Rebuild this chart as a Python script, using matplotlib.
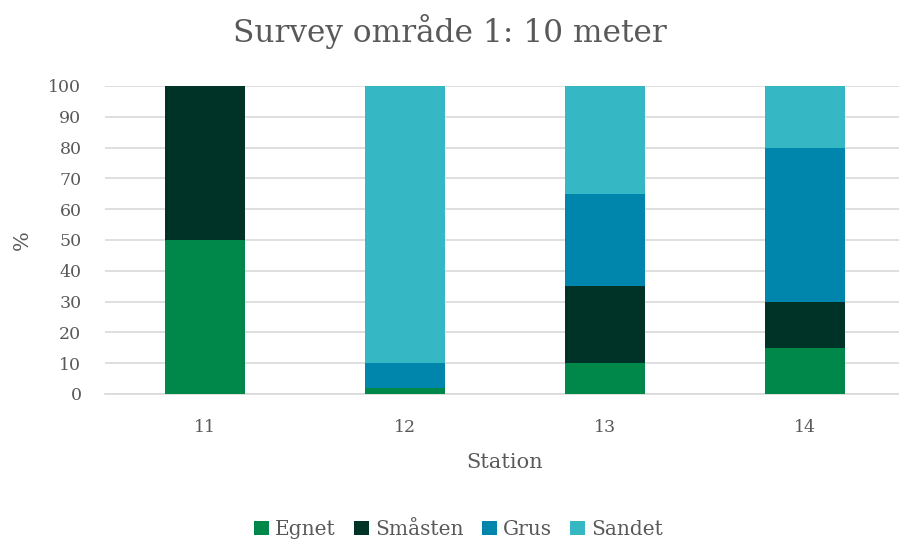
import numpy as np
import matplotlib.pyplot as plt

# data
stations = ["11", "12", "13", "14"]
egnet = [50, 2, 10, 15]
smasten = [50, 0, 25, 15]
grus = [0, 8, 30, 50]
sandet = [0, 90, 35, 20]

series = [("Egnet", egnet, "#00884A"),
          ("Småsten", smasten, "#003328"),
          ("Grus", grus, "#0085AD"),
          ("Sandet", sandet, "#35B8C4")]

TXT = "#595959"
plt.rcParams['font.family'] = ['DejaVu Serif']

fig = plt.figure(figsize=(8.99, 5.41), dpi=100)
ax = fig.add_axes([105 / 899, 1 - 394 / 541, 800 / 899, 308 / 541])

x = np.arange(len(stations))
bottom = np.zeros(len(stations))
for name, vals, col in series:
    ax.bar(x, vals, 0.4, bottom=bottom, color=col, label=name, zorder=3)
    bottom += np.array(vals)

ax.set_xlim(-0.5, len(stations) - 0.5)
ax.set_ylim(0, 100)
ax.set_yticks(range(0, 101, 10))
ax.set_xticks(x)
ax.set_xticklabels(stations)
ax.yaxis.grid(True, color="#D9D9D9", linewidth=1.2, zorder=0)
for s in ["top", "right", "left"]:
    ax.spines[s].set_visible(False)
ax.spines["bottom"].set_color("#D9D9D9")
ax.spines["bottom"].set_linewidth(1.2)
ax.tick_params(axis="y", length=0, pad=17, labelsize=12.5, labelcolor=TXT)
ax.tick_params(axis="x", length=0, pad=18, labelsize=12.5, labelcolor=TXT)

ax.set_xlabel("Station", fontsize=15, color=TXT, labelpad=12)
ax.set_ylabel("%", fontsize=15, color=TXT, labelpad=12)
fig.suptitle("Survey område 1: 10 meter", fontsize=22.5, color=TXT, y=0.975)

fig.legend(loc="lower center", ncol=4, frameon=False, fontsize=14.5,
           labelcolor=TXT, handlelength=0.75, handleheight=0.75,
           handletextpad=0.3, columnspacing=0.9, bbox_to_anchor=(0.51, -0.03))

fig.savefig("out.png", dpi=100)
